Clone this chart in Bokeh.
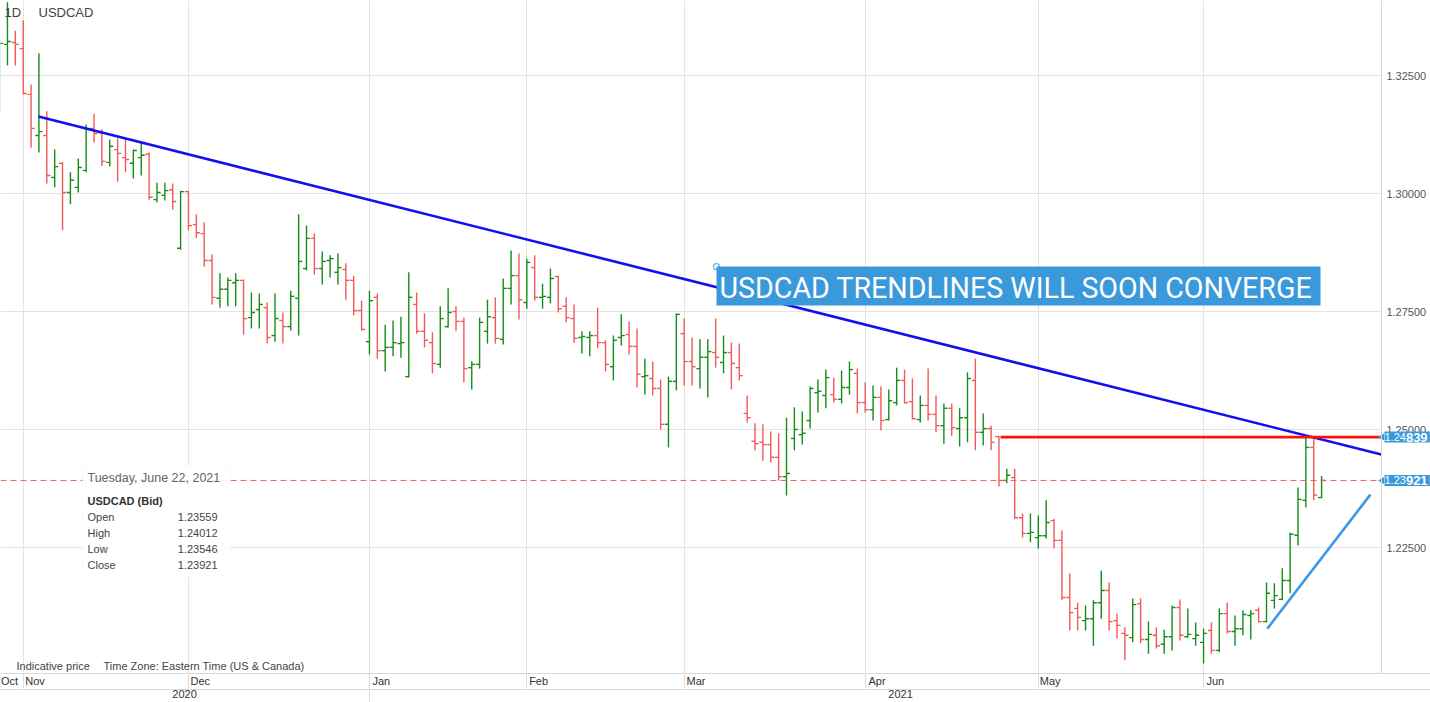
import pandas as pd
from bokeh.plotting import figure
from bokeh.models import (ColumnDataSource, Range1d, LinearAxis, FixedTicker,
                          Label, BoxAnnotation)
from bokeh.embed import file_html
from bokeh.resources import INLINE

# ---------------- data ----------------
dates = [d for d in pd.bdate_range("2020-10-28", "2021-06-22")
         if d != pd.Timestamp("2021-01-01")]

opens = [1.3197, 1.3316, 1.3320, 1.3307, 1.3210, 1.3123, 1.3123, 1.3034, 1.3064, 1.3002,
         1.3013, 1.3049, 1.3138, 1.3129, 1.3066, 1.3093, 1.3076, 1.3064, 1.3076, 1.3083,
         1.2987, 1.2996, 1.3008, 1.2884, 1.3004, 1.2934, 1.2915, 1.2858, 1.2778, 1.2797,
         1.2811, 1.2816, 1.2737, 1.2754, 1.2758, 1.2699, 1.2731, 1.2718, 1.2778, 1.2841,
         1.2905, 1.2841, 1.2858, 1.2833, 1.2839, 1.2816, 1.2752, 1.2686, 1.2780, 1.2667,
         1.2674, 1.2682, 1.2612, 1.2765, 1.2708, 1.2684, 1.2638, 1.2718, 1.2750, 1.2729,
         1.2631, 1.2638, 1.2708, 1.2737, 1.2691, 1.2799, 1.2826, 1.2769, 1.2843, 1.2780,
         1.2780, 1.2824, 1.2761, 1.2735, 1.2695, 1.2695, 1.2699, 1.2684, 1.2633, 1.2695,
         1.2701, 1.2676, 1.2612, 1.2608, 1.2587, 1.2511, 1.2602, 1.2703, 1.2644, 1.2629,
         1.2653, 1.2663, 1.2642, 1.2663, 1.2631, 1.2534, 1.2475, 1.2473, 1.2468, 1.2441,
         1.2400, 1.2481, 1.2489, 1.2519, 1.2578, 1.2572, 1.2574, 1.2564, 1.2589, 1.2619,
         1.2557, 1.2542, 1.2568, 1.2521, 1.2557, 1.2604, 1.2559, 1.2521, 1.2551, 1.2532,
         1.2508, 1.2545, 1.2502, 1.2525, 1.2604, 1.2494, 1.2502, 1.2485, 1.2392, 1.2398,
         1.2313, 1.2280, 1.2271, 1.2275, 1.2307, 1.2265, 1.2144, 1.2121, 1.2095, 1.2099,
         1.2133, 1.2159, 1.2095, 1.2068, 1.2059, 1.2131, 1.2055, 1.2064, 1.2045, 1.2061,
         1.2123, 1.2061, 1.2057, 1.2049, 1.2074, 1.2032, 1.2110, 1.2072, 1.2078, 1.2106,
         1.2117, 1.2093, 1.2138, 1.2140, 1.2180, 1.2276, 1.2350, 1.2462, 1.23559]
highs = [1.3328, 1.3405, 1.3345, 1.3367, 1.3231, 1.3297, 1.3174, 1.3093, 1.3066, 1.3045,
         1.3074, 1.3146, 1.3169, 1.3136, 1.3114, 1.3117, 1.3117, 1.3093, 1.3108, 1.3087,
         1.3023, 1.3023, 1.3021, 1.3006, 1.3006, 1.2956, 1.2939, 1.2871, 1.2831, 1.2822,
         1.2831, 1.2818, 1.2790, 1.2788, 1.2769, 1.2788, 1.2748, 1.2794, 1.2956, 1.2932,
         1.2915, 1.2877, 1.2869, 1.2873, 1.2852, 1.2826, 1.2773, 1.2794, 1.2788, 1.2722,
         1.2731, 1.2739, 1.2833, 1.2790, 1.2746, 1.2706, 1.2761, 1.2799, 1.2761, 1.2737,
         1.2644, 1.2737, 1.2775, 1.2780, 1.2820, 1.2879, 1.2873, 1.2862, 1.2869, 1.2809,
         1.2841, 1.2826, 1.2780, 1.2765, 1.2708, 1.2708, 1.2758, 1.2689, 1.2699, 1.2744,
         1.2729, 1.2714, 1.2650, 1.2644, 1.2606, 1.2612, 1.2746, 1.2735, 1.2695, 1.2691,
         1.2691, 1.2735, 1.2699, 1.2684, 1.2682, 1.2572, 1.2513, 1.2511, 1.2496, 1.2492,
         1.2525, 1.2547, 1.2538, 1.2591, 1.2606, 1.2627, 1.2610, 1.2625, 1.2644, 1.2629,
         1.2600, 1.2593, 1.2591, 1.2585, 1.2631, 1.2627, 1.2608, 1.2572, 1.2629, 1.2572,
         1.2555, 1.2555, 1.2545, 1.2621, 1.2650, 1.2534, 1.2508, 1.2487, 1.2417, 1.2417,
         1.2322, 1.2322, 1.2318, 1.2350, 1.2311, 1.2286, 1.2195, 1.2133, 1.2127, 1.2138,
         1.2201, 1.2176, 1.2110, 1.2081, 1.2142, 1.2142, 1.2093, 1.2081, 1.2076, 1.2127,
         1.2140, 1.2121, 1.2091, 1.2078, 1.2091, 1.2121, 1.2133, 1.2106, 1.2117, 1.2117,
         1.2123, 1.2176, 1.2174, 1.2206, 1.2282, 1.2377, 1.2484, 1.2481, 1.24012]
lows = [1.3172, 1.3271, 1.3271, 1.3210, 1.3097, 1.3087, 1.3021, 1.3013, 1.2922, 1.2977,
        1.3002, 1.3045, 1.3108, 1.3059, 1.3057, 1.3025, 1.3045, 1.3032, 1.3038, 1.2987,
        1.2981, 1.2985, 1.2966, 1.2881, 1.2922, 1.2905, 1.2845, 1.2765, 1.2758, 1.2761,
        1.2761, 1.2701, 1.2714, 1.2714, 1.2682, 1.2686, 1.2682, 1.2710, 1.2699, 1.2837,
        1.2828, 1.2807, 1.2822, 1.2807, 1.2775, 1.2742, 1.2710, 1.2659, 1.2650, 1.2623,
        1.2655, 1.2652, 1.2610, 1.2703, 1.2674, 1.2619, 1.2631, 1.2716, 1.2708, 1.2600,
        1.2585, 1.2629, 1.2682, 1.2682, 1.2680, 1.2765, 1.2733, 1.2756, 1.2773, 1.2756,
        1.2767, 1.2748, 1.2727, 1.2684, 1.2661, 1.2655, 1.2672, 1.2623, 1.2604, 1.2678,
        1.2659, 1.2589, 1.2574, 1.2572, 1.2500, 1.2462, 1.2583, 1.2593, 1.2593, 1.2587,
        1.2568, 1.2631, 1.2619, 1.2585, 1.2604, 1.2515, 1.2456, 1.2434, 1.2430, 1.2392,
        1.2360, 1.2456, 1.2468, 1.2502, 1.2536, 1.2545, 1.2557, 1.2555, 1.2574, 1.2534,
        1.2536, 1.2519, 1.2498, 1.2519, 1.2551, 1.2555, 1.2521, 1.2515, 1.2519, 1.2494,
        1.2470, 1.2487, 1.2464, 1.2473, 1.2456, 1.2466, 1.2456, 1.2379, 1.2386, 1.2311,
        1.2271, 1.2261, 1.2248, 1.2269, 1.2248, 1.2138, 1.2074, 1.2074, 1.2074, 1.2042,
        1.2099, 1.2074, 1.2057, 1.2011, 1.2049, 1.2047, 1.2025, 1.2036, 1.2025, 1.2032,
        1.2053, 1.2059, 1.2042, 1.2004, 1.2025, 1.2028, 1.2068, 1.2042, 1.2064, 1.2055,
        1.2091, 1.2091, 1.2121, 1.2138, 1.2153, 1.2254, 1.2335, 1.2350, 1.23546]
closes = [1.3318, 1.3322, 1.3316, 1.3212, 1.3138, 1.3131, 1.3038, 1.3057, 1.3002, 1.3028,
          1.3055, 1.3136, 1.3127, 1.3068, 1.3100, 1.3085, 1.3072, 1.3091, 1.3081, 1.2992,
          1.3002, 1.3006, 1.2983, 1.3004, 1.2932, 1.2917, 1.2858, 1.2780, 1.2797, 1.2816,
          1.2816, 1.2735, 1.2748, 1.2765, 1.2695, 1.2735, 1.2718, 1.2782, 1.2856, 1.2905,
          1.2841, 1.2856, 1.2862, 1.2843, 1.2816, 1.2752, 1.2712, 1.2773, 1.2667, 1.2674,
          1.2684, 1.2684, 1.2780, 1.2708, 1.2689, 1.2640, 1.2735, 1.2748, 1.2729, 1.2629,
          1.2638, 1.2727, 1.2739, 1.2693, 1.2799, 1.2826, 1.2775, 1.2854, 1.2780, 1.2782,
          1.2820, 1.2756, 1.2737, 1.2693, 1.2697, 1.2699, 1.2684, 1.2638, 1.2689, 1.2699,
          1.2676, 1.2617, 1.2614, 1.2587, 1.2511, 1.2602, 1.2744, 1.2644, 1.2633, 1.2653,
          1.2665, 1.2653, 1.2663, 1.2640, 1.2614, 1.2525, 1.2470, 1.2468, 1.2441, 1.2400,
          1.2407, 1.2500, 1.2492, 1.2587, 1.2581, 1.2610, 1.2564, 1.2589, 1.2627, 1.2557,
          1.2542, 1.2568, 1.2519, 1.2561, 1.2604, 1.2557, 1.2523, 1.2551, 1.2532, 1.2508,
          1.2545, 1.2504, 1.2525, 1.2608, 1.2494, 1.2502, 1.2473, 1.2392, 1.2403, 1.2313,
          1.2280, 1.2282, 1.2275, 1.2303, 1.2265, 1.2144, 1.2112, 1.2102, 1.2099, 1.2133,
          1.2159, 1.2093, 1.2085, 1.2064, 1.2129, 1.2055, 1.2066, 1.2042, 1.2061, 1.2123,
          1.2064, 1.2066, 1.2064, 1.2068, 1.2032, 1.2110, 1.2072, 1.2078, 1.2108, 1.2110,
          1.2093, 1.2153, 1.2148, 1.2180, 1.2278, 1.2352, 1.2462, 1.2361, 1.23921]

price_ticks = [1.225, 1.25, 1.275, 1.30, 1.325]
price_tick_labels = ["1.22500", "1.25000", "1.27500", "1.30000", "1.32500"]
month_labels = ["Oct", "Nov", "Dec", "Jan", "Feb", "Mar", "Apr", "May", "Jun"]
year_labels = ["2020", "2021"]

# analyst drawings (bar index, price)
downtrend_x = [4.94, 175.6]
downtrend_y = [1.3163, 1.2447]
resist_x = [127.2, 175.6]
resist_y = [1.24839, 1.24839]
uptrend_x = [161.1, 174.2]
uptrend_y = [1.2078, 1.2362]
callout_anchor_x = [91.1]
callout_anchor_y = [1.2845]
last_close = 1.23921
last_high_tag = 1.24839
tag_prices = [last_high_tag, last_close]

tooltip_date = "Tuesday, June 22, 2021"
tooltip_names = ["Open", "High", "Low", "Close"]
tooltip_values = ["1.23559", "1.24012", "1.23546", "1.23921"]

# ---------------- derived ----------------
n = len(dates)
xs = list(range(n))
month_starts = [i for i in range(1, n) if dates[i].month != dates[i - 1].month]
year_break = [i for i in range(1, n) if dates[i].year != dates[i - 1].year]

GREEN = "#188c18"
RED = "#f25a5a"
colors = [GREEN if c >= o else RED for o, c in zip(opens, closes)]
TICK = 0.45
src = ColumnDataSource(dict(x=xs, o=opens, h=highs, l=lows, c=closes, col=colors,
                            xl=[i - TICK for i in xs], xr=[i + TICK for i in xs]))

# helpers mapping reference pixel positions to data space (layout / annotations only)
def X(px):
    return (px + 0.9) / 7.869

def Y(py):
    return 1.34089 - py / 4720.0

W, H = 1430, 702
BOTTOM = 29
X_AXIS = 175.6   # where the chart area ends and the price scale begins

FONT = "Liberation Sans"
BLUE_BOX = "#3a99db"

p = figure(width=W, height=H, x_range=Range1d(X(0), X(W)),
           y_range=Range1d(Y(H - BOTTOM), Y(0)), output_backend="svg",
           toolbar_location=None, x_axis_location=None, y_axis_location=None,
           min_border_left=0, min_border_right=0, min_border_top=0,
           min_border_bottom=BOTTOM)
p.outline_line_color = None
p.background_fill_color = "white"
p.border_fill_color = "white"

p.xgrid.ticker = FixedTicker(ticks=month_starts)
p.ygrid.ticker = FixedTicker(ticks=price_ticks)
p.xgrid.grid_line_color = "#e4e4e4"
p.ygrid.grid_line_color = "#e4e4e4"

# white panel behind the price scale (hides grid lines there)
p.add_layout(BoxAnnotation(left=X_AXIS, fill_color="white", fill_alpha=1.0,
                           line_color=None, level="underlay"))

# right price axis, pinned to the end of the chart area
yaxis = LinearAxis(ticker=FixedTicker(ticks=price_ticks),
                   major_label_overrides=dict(zip(price_ticks, price_tick_labels)),
                   major_tick_out=0, major_tick_in=0, minor_tick_out=0, minor_tick_in=0,
                   major_label_standoff=5, axis_line_color="#d8d8d8",
                   major_label_text_font=FONT, major_label_text_font_size="11px",
                   major_label_text_color="#555555", fixed_location=X_AXIS)
p.add_layout(yaxis, "right")

# month axis
label_pos = [1.25] + [m + 1.5 for m in month_starts]
month_axis = LinearAxis(ticker=FixedTicker(ticks=label_pos, minor_ticks=month_starts),
                        major_label_overrides=dict(zip(label_pos, month_labels)),
                        major_tick_out=0, major_tick_in=0, minor_tick_out=15,
                        minor_tick_in=0, minor_tick_line_color="#dcdcdc",
                        major_label_standoff=-14, axis_line_color="#d8d8d8",
                        major_label_text_font=FONT, major_label_text_font_size="11px",
                        major_label_text_color="#333333")
p.add_layout(month_axis, "below")

year_pos = [23.5, 114.5]
year_axis = LinearAxis(ticker=FixedTicker(ticks=year_pos, minor_ticks=year_break),
                       major_label_overrides=dict(zip(year_pos, year_labels)),
                       major_tick_out=0, major_tick_in=0, minor_tick_out=14,
                       minor_tick_in=0, minor_tick_line_color="#dcdcdc",
                       major_label_standoff=-14, axis_line_color="#d8d8d8",
                       major_label_text_font=FONT, major_label_text_font_size="11px",
                       major_label_text_color="#333333")
p.add_layout(year_axis, "below")

# OHLC bars
p.segment(x0="x", y0="l", x1="x", y1="h", line_color="col", line_width=1.4, source=src)
p.segment(x0="xl", y0="o", x1="x", y1="o", line_color="col", line_width=1.4, source=src)
p.segment(x0="x", y0="c", x1="xr", y1="c", line_color="col", line_width=1.4, source=src)

# last close dashed line
p.line([X(0), X_AXIS], [last_close, last_close], line_color="#f25a5a",
       line_width=1, line_dash="6 4")

# trendlines
p.line(downtrend_x, downtrend_y, line_color="#1010f0", line_width=2.6)
p.line(resist_x, resist_y, line_color="#ff1010", line_width=2.8)
p.line(uptrend_x, uptrend_y, line_color="#3a98e6", line_width=2.6)

# callout
p.add_layout(BoxAnnotation(left=X(716), right=X(1320), top=Y(266), bottom=Y(305),
                           fill_color=BLUE_BOX, fill_alpha=1.0, line_color=None))
p.add_layout(Label(x=X(719), y=Y(287), text="USDCAD TRENDLINES WILL SOON CONVERGE",
                   text_font="Roboto", text_font_size="28.6px", text_color="white",
                   text_baseline="middle", text_align="left"))
p.scatter(callout_anchor_x, callout_anchor_y, marker="circle", size=6,
          fill_color="white", line_color="#6aaee6", line_width=1.2)

# top-left instrument text
p.add_layout(Label(x=X(4), y=Y(12), text="1D", text_font=FONT, text_font_size="13px",
                   text_color="#444444", text_baseline="middle"))
p.add_layout(Label(x=X(38), y=Y(12), text="USDCAD", text_font=FONT, text_font_size="13px",
                   text_color="#444444", text_baseline="middle"))

# tooltip box
p.add_layout(BoxAnnotation(left=X(82), right=X(230), top=Y(464), bottom=Y(577),
                           fill_color="white", fill_alpha=0.85, line_color="#f0f0f0"))
p.add_layout(Label(x=X(87), y=Y(477), text=tooltip_date, text_font=FONT,
                   text_font_size="12.5px", text_color="#666666", text_baseline="middle"))
p.add_layout(Label(x=X(87), y=Y(500), text="USDCAD (Bid)", text_font=FONT,
                   text_font_size="11px", text_font_style="bold", text_color="#333333",
                   text_baseline="middle"))
for k, (nm, val) in enumerate(zip(tooltip_names, tooltip_values)):
    yy = Y(516 + 16 * k)
    p.add_layout(Label(x=X(87), y=yy, text=nm, text_font=FONT, text_font_size="11px",
                       text_color="#444444", text_baseline="middle"))
    p.add_layout(Label(x=X(217), y=yy, text=val, text_font=FONT, text_font_size="11px",
                       text_color="#444444", text_baseline="middle", text_align="right"))

# bottom-left note
p.add_layout(Label(x=X(16), y=Y(665), text="Indicative price", text_font=FONT,
                   text_font_size="11px", text_color="#444444", text_baseline="middle"))
p.add_layout(Label(x=X(103), y=Y(665), text="Time Zone: Eastern Time (US & Canada)",
                   text_font=FONT, text_font_size="11px", text_color="#444444",
                   text_baseline="middle"))

# price tags on the right axis (small pointer + box + split-weight text)
p.scatter([X(1381.5)] * len(tag_prices), tag_prices, marker="triangle", angle=1.5708,
          size=7, fill_color=BLUE_BOX, line_color=None)
tag_x = X(1384)
for price in tag_prices:
    s = "%.5f" % price
    p.add_layout(Label(x=tag_x, y=price, text=s, text_font=FONT, text_font_size="12px",
                       text_font_style="bold", text_color=BLUE_BOX, text_baseline="middle",
                       text_align="left", background_fill_color=BLUE_BOX, padding=1))
    p.add_layout(Label(x=tag_x, y=price, text=s[:4], text_font=FONT, text_font_size="11px",
                       text_color="white", text_baseline="middle", text_align="left"))
    p.add_layout(Label(x=tag_x + 21.4 / 7.869, y=price, text=s[4:], text_font=FONT,
                       text_font_size="13px", text_font_style="bold", text_color="white",
                       text_baseline="middle", text_align="left"))

open("out.html", "w").write(file_html(p, INLINE))
